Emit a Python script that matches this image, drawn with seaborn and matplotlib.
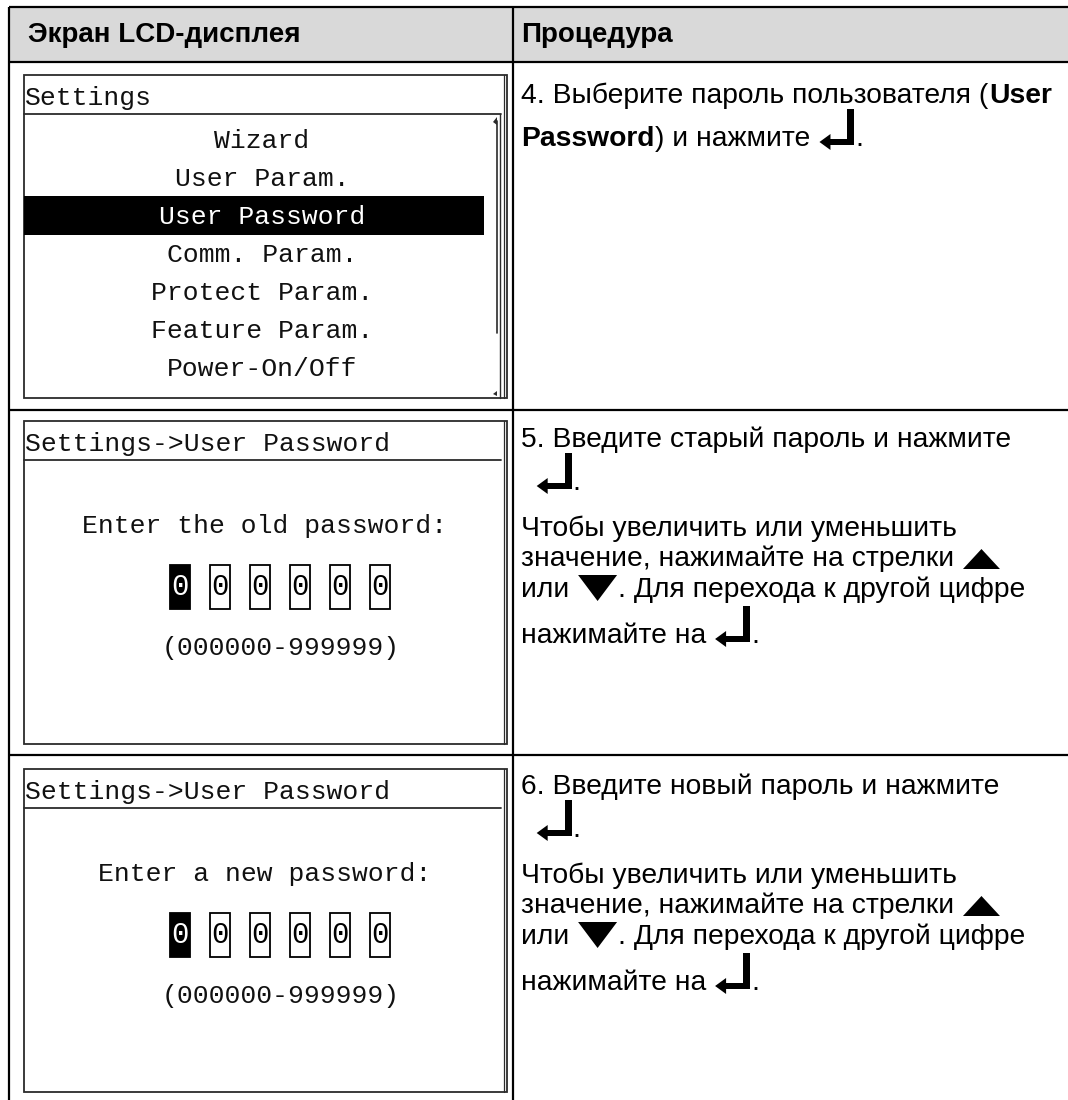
import re
import matplotlib
matplotlib.use("Agg")
import matplotlib.pyplot as plt
from matplotlib.patches import Rectangle, Polygon
import seaborn as sns

# table content
header_labels = ["Экран LCD-дисплея", "Процедура"]

menu_title = "Settings"
menu_items = ["Wizard", "User Param.", "User Password", "Comm. Param.",
              "Protect Param.", "Feature Param.", "Power-On/Off"]
menu_selected = 2

pwd_title = "Settings->User Password"
pwd_prompts = ["Enter the old password:", "Enter a new password:"]
pwd_digits = ["0", "0", "0", "0", "0", "0"]
pwd_cursor = 0
pwd_range = "(000000-999999)"

steps = [
    ["4. Выберите пароль пользователя (**User**",
     "**Password**) и нажмите {enter}."],
    ["5. Введите старый пароль и нажмите",
     " {enter}.",
     "Чтобы увеличить или уменьшить",
     "значение, нажимайте на стрелки {up}",
     "или {down}. Для перехода к другой цифре",
     "нажимайте на {enter}."],
    ["6. Введите новый пароль и нажмите",
     " {enter}.",
     "Чтобы увеличить или уменьшить",
     "значение, нажимайте на стрелки {up}",
     "или {down}. Для перехода к другой цифре",
     "нажимайте на {enter}."],
]

sns.set_theme(style="white")
plt.rcParams['font.family'] = ['Liberation Sans', 'DejaVu Sans']
plt.rcParams['text.color'] = 'black'
SANS = 'Liberation Sans'
MONO = 'Liberation Mono'
FS = 20.3
HFS = 20
LFS = 19
SPACE = 0.278 * FS * 100 / 72

W, H = 1068, 1100
fig = plt.figure(figsize=(W / 100, H / 100), dpi=100)
ax = fig.add_axes([0, 0, 1, 1])
ax.set_xlim(0, W)
ax.set_ylim(H, 0)
ax.axis('off')
renderer = fig.canvas.get_renderer()

tab_left, tab_top, col_x = 9, 7, 513
row_tops = [62, 410, 755]
text_tops = [62, 406, 753]
line_offsets = [41, 84, 130, 160, 191, 237]
text_x = 521

# header
ax.add_patch(Rectangle((tab_left, tab_top), W - tab_left, row_tops[0] - tab_top,
                       color='#d9d9d9', lw=0))
ax.text(28, 42, header_labels[0], fontsize=HFS, fontweight='bold', family=SANS,
        ha='left', va='baseline')
ax.text(text_x, 42, header_labels[1], fontsize=HFS, fontweight='bold', family=SANS,
        ha='left', va='baseline')

# grid lines
lw_tab = 1.6
for yy in [tab_top] + row_tops:
    ax.plot([tab_left, W], [yy, yy], color='black', lw=lw_tab, solid_capstyle='butt')
for xx in [tab_left, col_x]:
    ax.plot([xx, xx], [tab_top, H], color='black', lw=lw_tab, solid_capstyle='butt')


def icon_enter(x, y):
    w, h, bw, ht, hl, hh = 35, 36, 7, 6, 11, 16
    yb = y - 1
    ax.add_patch(Rectangle((x + w - bw, yb - h), bw, h, color='black', lw=0))
    ax.add_patch(Rectangle((x + hl - 1, yb - ht), w - hl + 1, ht, color='black', lw=0))
    yc = yb - ht / 2
    ax.add_patch(Polygon([(x, yc), (x + hl, yc - hh / 2), (x + hl, yc + hh / 2)],
                         closed=True, color='black', lw=0))
    return x + w + 1


def icon_up(x, y):
    ax.add_patch(Polygon([(x, y + 3), (x + 37, y + 3), (x + 18.5, y - 17)],
                         closed=True, color='black', lw=0))
    return x + 38


def icon_down(x, y):
    ax.add_patch(Polygon([(x, y - 22), (x + 39, y - 22), (x + 19.5, y + 4)],
                         closed=True, color='black', lw=0))
    return x + 40


ICONS = {'{enter}': icon_enter, '{up}': icon_up, '{down}': icon_down}


def draw_rich(x, y, s):
    for tok in re.split(r'(\*\*.+?\*\*|\{\w+\})', s):
        if not tok:
            continue
        if tok in ICONS:
            x = ICONS[tok](x, y)
            continue
        bold = tok.startswith('**')
        txt = tok.strip('*') if bold else tok
        lead = len(txt) - len(txt.lstrip(' '))
        trail = len(txt) - len(txt.rstrip(' '))
        x += lead * SPACE
        core = txt.strip(' ')
        if core:
            t = ax.text(x, y, core, fontsize=FS, family=SANS,
                        fontweight='bold' if bold else 'normal',
                        ha='left', va='baseline')
            x += t.get_window_extent(renderer).width + 1
        x += trail * SPACE
    return x


for r, lines in enumerate(steps):
    for i, line in enumerate(lines):
        draw_rich(text_x, text_tops[r] + line_offsets[i], line)

# LCD screens
lcd_left, lcd_right = 24, 507
lcd_tops = [75, 421, 769]
lcd_h = 323
lcd_col = '#2b2b2b'


def lcd_frame(top, title):
    ax.add_patch(Rectangle((lcd_left, top), lcd_right - lcd_left, lcd_h, fill=False,
                           ec=lcd_col, lw=1.3))
    ax.plot([lcd_right - 3] * 2, [top, top + lcd_h], color=lcd_col, lw=0.9)
    ax.plot([lcd_left, lcd_right - 6], [top + 39] * 2, color=lcd_col, lw=1.3)
    ax.text(lcd_left + 1, top + 30, title, fontsize=LFS, family=MONO, color='#111',
            ha='left', va='baseline')


# screen 1: settings menu
top = lcd_tops[0]
lcd_frame(top, menu_title)
ax.plot([lcd_right - 7] * 2, [top + 39, top + lcd_h], color=lcd_col, lw=1.0)
ax.plot([lcd_right - 10] * 2, [top + 46, top + 258], color=lcd_col, lw=1.2)
ax.add_patch(Polygon([(lcd_right - 10, top + 42), (lcd_right - 10, top + 50),
                      (lcd_right - 14, top + 47)], closed=True, color=lcd_col, lw=0))
ax.add_patch(Polygon([(lcd_right - 10, top + lcd_h - 2), (lcd_right - 10, top + lcd_h - 7),
                      (lcd_right - 14, top + lcd_h - 4)], closed=True, color=lcd_col, lw=0))
menu_cx = 262
for i, item in enumerate(menu_items):
    cy = top + 64 + 38 * i
    col = '#111'
    if i == menu_selected:
        ax.add_patch(Rectangle((lcd_left, cy - 19), 460, 39, color='black', lw=0))
        col = 'white'
    ax.text(menu_cx, cy + 8.5, item, fontsize=LFS, family=MONO, color=col,
            ha='center', va='baseline')

# screens 2 and 3: password entry
for k, prompt in enumerate(pwd_prompts):
    top = lcd_tops[k + 1]
    lcd_frame(top, pwd_title)
    ax.text(265, top + 112, prompt, fontsize=LFS, family=MONO, color='#111',
            ha='center', va='baseline')
    for i, d in enumerate(pwd_digits):
        bx = 170 + 40 * i
        filled = i == pwd_cursor
        ax.add_patch(Rectangle((bx, top + 144), 20, 44, fill=filled,
                               fc='black', ec='black', lw=1.3))
        ax.text(bx + 10, top + 166, d, fontsize=21, family=MONO,
                color='white' if filled else 'black', ha='center', va='center')
    ax.text(281, top + 234, pwd_range, fontsize=LFS, family=MONO, color='#111',
            ha='center', va='baseline')

fig.savefig('out.png', dpi=100)
